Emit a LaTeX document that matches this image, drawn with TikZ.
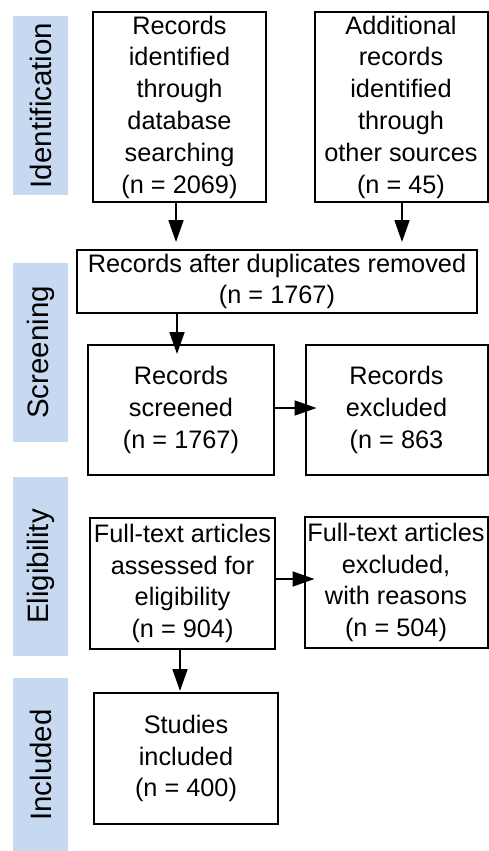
\documentclass[tikz,border=0pt]{standalone}
\usepackage{fontspec}
\setmainfont{Liberation Sans}
\usetikzlibrary{arrows.meta}
\definecolor{bandblue}{RGB}{198,217,241}
\tikzset{
  box/.style={draw=black, line width=2pt, fill=white, inner sep=0pt, align=center,
    font=\fontsize{25.3}{31.8}\selectfont},
  band/.style={fill=bandblue, inner sep=0pt, rotate=90, minimum height=55pt,
    font=\fontsize{29.5}{35}\selectfont},
  arr/.style={line width=1.8pt, -{Triangle[length=22pt,width=15pt]}}
}
\begin{document}
\begin{tikzpicture}[x=1pt,y=-1pt]
\useasboundingbox (0,0) rectangle (489,851);
% phase bands
\node[band, minimum width=179pt] (bid) at (40.5,105.5) {Identification};
\node[band, minimum width=179pt] (bscr) at (40.5,352.5) {Screening};
\node[band, minimum width=179pt] (belig) at (40.5,566.5) {Eligibility};
\node[band, minimum width=174pt] (binc) at (40.5,765) {Included};
% boxes
\node[box, minimum width=173pt, minimum height=190pt] (b1) at (179.5,107)
  {Records\\identified\\through\\database\\searching\\(n = 2069)};
\node[box, minimum width=173pt, minimum height=190pt] (b2) at (401,107)
  {Additional\\records\\identified\\through\\other sources\\(n = 45)};
\node[box, minimum width=400pt, minimum height=63pt] (b3) at (277,281.5)
  {Records after duplicates removed\\(n = 1767)};
\node[box, minimum width=186pt, minimum height=130pt] (b4) at (181,410)
  {Records\\screened\\(n = 1767)};
\node[box, minimum width=182pt, minimum height=130pt] (b5) at (396.5,410)
  {Records\\excluded\\(n = 863};
\node[box, minimum width=185pt, minimum height=131pt] (b6) at (182.5,583.5)
  {Full-text articles\\assessed for\\eligibility\\(n = 904)};
\node[box, minimum width=183pt, minimum height=131pt] (b7) at (396,582.5)
  {Full-text articles\\excluded,\\with reasons\\(n = 504)};
\node[box, minimum width=184pt, minimum height=131pt] (b8) at (186,758.5)
  {Studies\\included\\(n = 400)};
% arrows
\draw[arr, shorten >=7pt] ([xshift=-3.5pt]b1.south) -- ([xshift=-3.5pt]b1.south |- b3.north);
\draw[arr, shorten >=7pt] ([xshift=1pt]b2.south) -- ([xshift=1pt]b2.south |- b3.north);
\draw[arr, shorten >=-10pt] ([xshift=-4pt]b4.north |- b3.south) -- ([xshift=-4pt]b4.north);
\draw[arr, shorten >=-12pt] ([yshift=2pt]b4.east) -- ([yshift=2pt]b4.east -| b5.west);
\draw[arr, shorten >=-11pt] ([yshift=4.5pt]b6.east) -- ([yshift=4.5pt]b6.east -| b7.west);
\draw[arr, shorten >=1pt] ([xshift=-2.5pt]b6.south) -- ([xshift=-2.5pt]b6.south |- b8.north);
\end{tikzpicture}
\end{document}
